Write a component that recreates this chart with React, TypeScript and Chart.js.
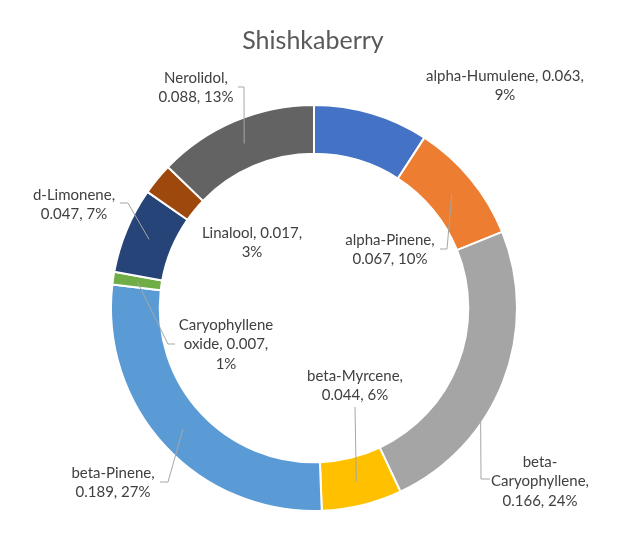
import { useEffect, useRef } from 'react'
import { Chart, registerables } from 'chart.js'

Chart.register(...registerables)

const chartTitle = 'Shishkaberry'
const compounds = [
  'alpha-Humulene',
  'alpha-Pinene',
  'beta-Caryophyllene',
  'beta-Myrcene',
  'beta-Pinene',
  'Caryophyllene oxide',
  'd-Limonene',
  'Linalool',
  'Nerolidol',
]
const amounts = [0.063, 0.067, 0.166, 0.044, 0.189, 0.007, 0.047, 0.0174, 0.088]
const sliceColors = [
  '#4472C4', '#ED7D31', '#A5A5A5', '#FFC000', '#5B9BD5',
  '#70AD47', '#264478', '#9E480E', '#636363',
]

// label placement relative to the doughnut centre: text centre, wrap width,
// and leader start / elbow (the leader ends in the middle of the slice)
const labelLayout = [
  { dx: 191, dy: -232, w: 170 },
  { dx: 76, dy: -68, w: 120 },
  { dx: 226, dy: 154, w: 110 },
  { dx: 41, dy: 68, w: 110 },
  { dx: -201, dy: 165, w: 110 },
  { dx: -88, dy: 17, w: 105 },
  { dx: -240, dy: -113, w: 110 },
  { dx: -62, dy: -75, w: 112 },
  { dx: -118, dy: -230, w: 100 },
]
const leaders = [
  null,
  { from: [126, -59], elbow: [133, -59] },
  { from: [176, 171], elbow: [167, 171] },
  { from: [41, 99] },
  { from: [-154, 174], elbow: [-146, 174] },
  { from: [-139, 36], elbow: [-146, 36] },
  { from: [-194, -105], elbow: [-186, -105] },
  null,
  { from: [-76, -221], elbow: [-70, -221] },
]

const FONT = 'Lato, "Noto Sans", sans-serif'

function wrap (ctx, text, maxW) {
  const tokens = []
  text.split(' ').forEach((word, wi) => {
    const parts = word.split(/(?<=-)/)
    parts.forEach((p, pi) => tokens.push({ t: p, sp: wi > 0 && pi === 0 }))
  })
  const lines = []
  let cur = ''
  tokens.forEach(tok => {
    const next = cur + (tok.sp && cur ? ' ' : '') + tok.t
    if (cur && ctx.measureText(next).width > maxW) {
      lines.push(cur)
      cur = tok.t
    } else {
      cur = next
    }
  })
  if (cur) lines.push(cur)
  return lines
}

const labelPlugin = {
  id: 'sliceLabels',
  afterDraw (chart) {
    const ctx = chart.ctx
    const arcs = chart.getDatasetMeta(0).data
    if (!arcs.length) return
    const cx = arcs[0].x
    const cy = arcs[0].y
    const total = amounts.reduce((a, b) => a + b, 0)
    ctx.save()
    // title
    ctx.fillStyle = '#595959'
    ctx.font = '25px ' + FONT
    ctx.textAlign = 'center'
    ctx.textBaseline = 'middle'
    ctx.fillText(chartTitle, 313, 41)

    ctx.font = '15px ' + FONT
    arcs.forEach((arc, i) => {
      const lay = labelLayout[i]
      const lead = leaders[i]
      const pct = Math.round((amounts[i] / total) * 100)
      const text = `${compounds[i]}, ${amounts[i].toFixed(3)}, ${pct}%`
      if (lead) {
        const p = arc.getCenterPoint()
        ctx.strokeStyle = '#A6A6A6'
        ctx.lineWidth = 1
        ctx.beginPath()
        ctx.moveTo(cx + lead.from[0], cy + lead.from[1])
        if (lead.elbow) ctx.lineTo(cx + lead.elbow[0], cy + lead.elbow[1])
        ctx.lineTo(p.x, p.y)
        ctx.stroke()
      }
      ctx.fillStyle = '#404040'
      const lines = wrap(ctx, text, lay.w)
      lines.forEach((ln, k) => {
        ctx.fillText(ln, cx + lay.dx, cy + lay.dy + k * 19.5)
      })
    })
    ctx.restore()
  },
}

export default function App () {
  const canvasRef = useRef(null)
  const chartRef = useRef(null)

  useEffect(() => {
    if (chartRef.current) chartRef.current.destroy()
    chartRef.current = new Chart(canvasRef.current.getContext('2d'), {
      type: 'doughnut',
      data: {
        labels: compounds,
        datasets: [{
          data: amounts,
          backgroundColor: sliceColors,
          borderColor: '#ffffff',
          borderWidth: 2,
        }],
      },
      options: {
        responsive: false,
        animation: false,
        cutout: '76%',
        layout: { padding: { top: 104, bottom: 27, left: 110, right: 112 } },
        plugins: {
          legend: { display: false },
          tooltip: { enabled: false },
          title: { display: false },
        },
      },
      plugins: [labelPlugin],
    })
    return () => {
      if (chartRef.current) {
        chartRef.current.destroy()
        chartRef.current = null
      }
    }
  }, [])

  return (
    <div style={{ position: 'fixed', left: 0, top: 0, width: 630, height: 539, background: '#fff' }}>
      <canvas ref={canvasRef} width={630} height={539} />
    </div>
  )
}
